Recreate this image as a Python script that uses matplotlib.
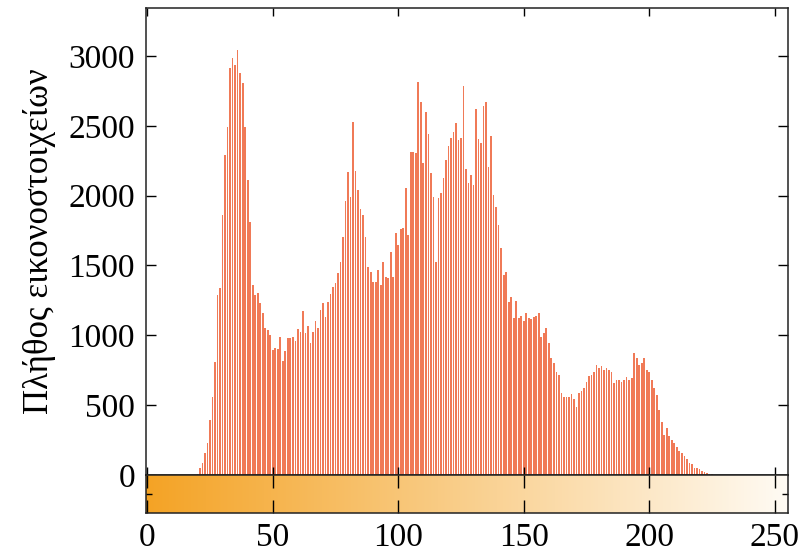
import numpy as np
import matplotlib
matplotlib.use("Agg")
import matplotlib.pyplot as plt
from matplotlib.colors import LinearSegmentedColormap

# 直方图数据：灰度级 0..255，读图估计的像素数
first_bin = 20
counts_from_20 = [
    10, 48, 84, 155, 227, 394, 561, 811, 1289, 1337,            # 20-29
    1862, 2291, 2494, 2912, 2983, 2936, 3043, 2876, 2804, 2494,  # 30-39
    2112, 1814, 1360, 1289, 1300, 1229, 1158, 1050, 1038, 1002,  # 40-49
    895, 907, 900, 990, 819, 890, 979, 979, 990, 962,            # 50-59
    1045, 1026, 1174, 1019, 1069, 943, 1026, 1105, 1050, 1181,   # 60-69
    1234, 1134, 1241, 1294, 1348, 1377, 1444, 1527, 1706, 1964,  # 70-79
    2172, 1993, 2530, 2177, 2041, 1902, 1862, 1706, 1492, 1456,  # 80-89
    1384, 1384, 1468, 1360, 1527, 1420, 1408, 1599, 1420, 1730,  # 90-99
    1647, 1759, 1766, 2053, 1718, 2315, 2315, 2308, 2816, 2673,  # 100-109
    2231, 2601, 2442, 2165, 1993, 1527, 1981, 2021, 2124, 2255,  # 110-119
    2356, 2410, 2458, 2518, 2399, 2410, 2785, 2189, 2088, 2148,  # 120-129
    2076, 2618, 2403, 2375, 2642, 2673, 2208, 2427, 2005, 1921,  # 130-139
    1790, 1623, 1432, 1456, 1241, 1272, 1122, 1248, 1122, 1138,  # 140-149
    1105, 1158, 1122, 1115, 1129, 1138, 1162, 986, 1014, 1050,   # 150-159
    943, 835, 800, 740, 716, 590, 561, 561, 561, 580,            # 160-169
    542, 484, 590, 604, 620, 668, 709, 716, 740, 788,            # 170-179
    764, 783, 752, 764, 752, 740, 656, 680, 680, 668,            # 180-189
    680, 704, 680, 697, 871, 835, 788, 800, 835, 752,            # 190-199
    740, 680, 620, 573, 465, 382, 286, 334, 279, 251,            # 200-209
    232, 203, 174, 155, 136, 112, 84, 76, 48, 48,                # 210-219
    41, 31, 24, 12, 7, 5, 3,                                     # 220-226
]
levels = np.arange(256)
counts = np.zeros(256)
counts[first_bin:first_bin + len(counts_from_20)] = counts_from_20

x_ticks = [0, 50, 100, 150, 200, 250]
y_ticks = [0, 500, 1000, 1500, 2000, 2500, 3000]
y_label = "Πλήθος εικονοστοιχείων"

plt.rcParams["font.family"] = ["Liberation Serif", "DejaVu Serif"]

fig = plt.figure(figsize=(8.05, 5.58), dpi=100)
# 主图（直方图）和下方的灰度渐变条
ax = fig.add_axes([0.1814, 0.1487, 0.7975, 0.837])
ax_bar = fig.add_axes([0.1814, 0.0806, 0.7975, 0.0681])

ax.bar(levels, counts, width=0.68, color="#F07A57", linewidth=0)
ax.set_xlim(-0.5, 255.3)
ax.set_ylim(0, 3343)
ax.set_yticks(y_ticks)
ax.set_xticks(x_ticks)
ax.tick_params(axis="y", direction="in", left=True, right=True, length=7, width=1.0,
               labelsize=24, pad=8)
ax.tick_params(axis="x", direction="in", top=True, bottom=True, length=6, width=1.0,
               labelbottom=False)
ax.set_ylabel(y_label, fontsize=25)
ax.yaxis.set_label_coords(-0.14, 0.5)
for s in ax.spines.values():
    s.set_linewidth(1.1)
    s.set_color("#222222")

# 渐变条
cmap = LinearSegmentedColormap.from_list("ramp", ["#F4A325", "#FFFBF4"])
grad = np.linspace(0, 1, 256).reshape(1, -1)
ax_bar.imshow(grad, aspect="auto", cmap=cmap, extent=(-0.5, 255.5, 0, 1))
ax_bar.set_xlim(-0.5, 255.3)
ax_bar.set_ylim(0, 1)
ax_bar.set_xticks(x_ticks)
ax_bar.set_yticks([0.5])
ax_bar.set_yticklabels([])
ax_bar.tick_params(axis="x", direction="in", top=True, bottom=True, length=9.5, width=1.0,
                   labelsize=24, pad=7)
ax_bar.tick_params(axis="y", direction="in", left=True, right=True, length=4.5, width=1.0)
for s in ax_bar.spines.values():
    s.set_linewidth(1.1)
    s.set_color("#222222")

fig.savefig("out.png", dpi=100)
